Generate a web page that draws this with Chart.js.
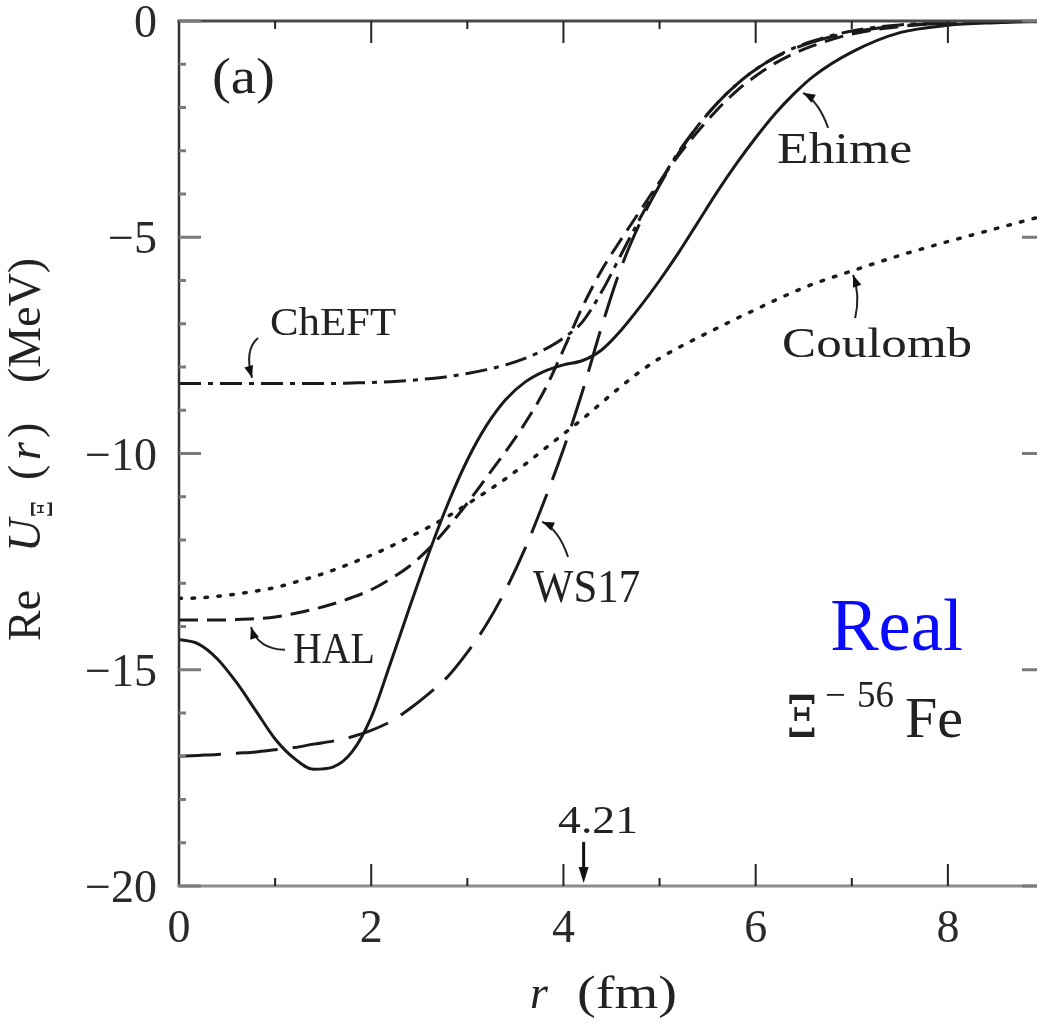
<!DOCTYPE html>
<html>
<head>
<meta charset="utf-8">
<script src="https://cdn.jsdelivr.net/npm/chart.js@4.4.1/dist/chart.umd.min.js"></script>
<style>
  html, body { margin: 0; padding: 0; background: #fff; overflow: hidden; }
  #wrap { width: 1050px; height: 1023px; }
</style>
</head>
<body>
<div id="wrap"><canvas id="c" width="1050" height="1023"></canvas></div>
<script>
// Radial grid (fm) shared by all potentials
const radius = [0, 0.2, 0.4, 0.6, 0.8, 1.0, 1.2, 1.4, 1.6, 1.8,
                2.0, 2.2, 2.4, 2.6, 2.8, 3.0, 3.2, 3.4, 3.6, 3.8,
                4.0, 4.2, 4.4, 4.6, 4.8, 5.0, 5.2, 5.4, 5.6, 5.8,
                6.0, 6.2, 6.4, 6.6, 7.0, 7.5, 8.0, 8.5, 9.0];

// Re U_Xi(r) in MeV for each interaction
const ehime = [-14.3, -14.4, -14.75, -15.3, -15.95, -16.6, -17.05, -17.3, -17.25, -16.9,
               -16.1, -14.85, -13.55, -12.3, -11.15, -10.15, -9.35, -8.75, -8.35, -8.1,
               -7.95, -7.85, -7.6, -7.15, -6.6, -6.0, -5.35, -4.65, -3.95, -3.3,
               -2.7, -2.15, -1.68, -1.28, -0.72, -0.27, -0.1, -0.04, -0.01];
const ws17 = [-17.0, -16.98, -16.96, -16.93, -16.9, -16.85, -16.8, -16.72, -16.65, -16.55,
              -16.4, -16.2, -15.9, -15.55, -15.15, -14.6, -13.95, -13.15, -12.2, -11.1,
              -9.9, -8.55, -7.05, -5.7, -4.65, -3.8, -3.05, -2.42, -1.9, -1.47,
              -1.12, -0.85, -0.64, -0.48, -0.26, -0.11, -0.05, -0.02, -0.01];
const hal = [-13.85, -13.85, -13.85, -13.84, -13.82, -13.78, -13.7, -13.6, -13.48, -13.33,
             -13.15, -12.9, -12.6, -12.2, -11.7, -11.15, -10.55, -9.95, -9.3, -8.55,
             -7.6, -6.6, -5.75, -5.05, -4.38, -3.72, -3.1, -2.55, -2.05, -1.62,
             -1.27, -0.98, -0.75, -0.57, -0.3, -0.13, -0.05, -0.02, -0.01];
const cheft = [-8.38, -8.38, -8.38, -8.38, -8.38, -8.38, -8.38, -8.38, -8.38, -8.37,
               -8.36, -8.34, -8.31, -8.27, -8.22, -8.15, -8.06, -7.95, -7.8, -7.6,
               -7.33, -6.95, -6.25, -5.4, -4.55, -3.75, -3.02, -2.42, -1.9, -1.47,
               -1.12, -0.84, -0.62, -0.46, -0.23, -0.09, -0.04, -0.01, 0];
const coulomb = [-13.35, -13.34, -13.3, -13.25, -13.18, -13.1, -12.98, -12.85, -12.7, -12.53,
                 -12.35, -12.15, -11.93, -11.7, -11.45, -11.17, -10.88, -10.58, -10.25, -9.9,
                 -9.55, -9.2, -8.82, -8.45, -8.1, -7.8, -7.55, -7.32, -7.1, -6.88,
                 -6.67, -6.46, -6.26, -6.08, -5.78, -5.42, -5.1, -4.8, -4.5];

// Axis ticks
const xMajorTicks = [0, 2, 4, 6, 8];
const xMinorTicks = [1, 3, 5, 7];
const yMajorTicks = [0, -5, -10, -15, -20];
const yMinorTicks = [-1, -2, -3, -4, -6, -7, -8, -9, -11, -12, -13, -14, -16, -17, -18, -19];

// Marked radius on the r axis
const markedRadius = 4.21;

const SERIF = "'Liberation Serif', 'Times New Roman', serif";
const GREEK = "'DejaVu Serif', 'Liberation Serif', serif";
const INK = '#1a1a1a';

function toPoints(ys) { return radius.map((r, i) => ({ x: r, y: ys[i] })); }

function lineSet(label, ys, dash, width, cap) {
  return {
    label, data: toPoints(ys), borderColor: INK, borderWidth: width || 3,
    borderDash: dash || [], borderCapStyle: cap || 'butt', fill: false,
    pointRadius: 0, cubicInterpolationMode: 'monotone'
  };
}

// Annotation text placed in data coordinates (r, U); width is the rendered span in px
const labels = [
  { text: 'ChEFT', r: 0.947, u: -7.26, size: 41, width: 126 },
  { text: 'HAL', r: 1.186, u: -14.84, size: 44, width: 82 },
  { text: 'WS17', r: 3.684, u: -13.43, size: 46, width: 107 },
  { text: 'Ehime', r: 6.223, u: -3.28, size: 45, width: 135 },
  { text: 'Coulomb', r: 6.275, u: -7.77, size: 43, width: 190 },
  { text: '(a)', r: 0.343, u: -1.66, size: 50, width: 63 }
];
// Curved pointer arrows: start, control, tip (r, U)
const pointers = [
  [[0.822, -7.33], [0.676, -7.61], [0.76, -8.25]],
  [[1.103, -14.54], [0.82, -14.52], [0.749, -14.01]],
  [[4.048, -12.39], [3.95, -11.75], [3.778, -11.58]],
  [[6.754, -2.47], [6.66, -1.87], [6.494, -1.66]],
  [[7.035, -6.87], [7.09, -6.34], [7.014, -5.87]]
];

// draw text squeezed or stretched horizontally to a given span
function drawFitted(ctx, text, x, y, width) {
  const w = ctx.measureText(text).width;
  ctx.save();
  ctx.translate(x, y);
  ctx.scale(width / w, 1);
  ctx.fillText(text, 0, 0);
  ctx.restore();
}

function arrowHead(ctx, tip, from, len, half) {
  const a = Math.atan2(tip[1] - from[1], tip[0] - from[0]);
  const c = Math.cos(a), s = Math.sin(a);
  ctx.beginPath();
  ctx.moveTo(tip[0], tip[1]);
  ctx.lineTo(tip[0] - len * c + half * s, tip[1] - len * s - half * c);
  ctx.lineTo(tip[0] - len * c - half * s, tip[1] - len * s + half * c);
  ctx.closePath();
  ctx.fill();
}

const decorPlugin = {
  id: 'decor',
  afterDraw(chart) {
    const ctx = chart.ctx;
    const xs = chart.scales.x, ys = chart.scales.y;
    const P = (r, u) => [xs.getPixelForValue(r), ys.getPixelForValue(u)];
    const { left, right, top, bottom } = chart.chartArea;

    ctx.save();
    // frame
    ctx.lineCap = 'butt';
    ctx.strokeStyle = '#4a4a4a';
    ctx.lineWidth = 3;
    ctx.beginPath(); ctx.moveTo(left - 1.5, top); ctx.lineTo(right + 1.5, top); ctx.stroke();
    ctx.strokeStyle = '#333';
    ctx.lineWidth = 2.5;
    ctx.beginPath(); ctx.moveTo(left, top); ctx.lineTo(left, bottom); ctx.stroke();
    ctx.beginPath(); ctx.moveTo(right, top); ctx.lineTo(right, bottom); ctx.stroke();
    ctx.strokeStyle = '#8c8c8c';
    ctx.lineWidth = 3;
    ctx.beginPath(); ctx.moveTo(left - 1.5, bottom); ctx.lineTo(right + 1.5, bottom); ctx.stroke();

    // inward ticks on r axes
    ctx.strokeStyle = '#222';
    ctx.lineWidth = 2;
    const xTick = (v, len) => {
      const x = xs.getPixelForValue(v);
      ctx.beginPath(); ctx.moveTo(x, bottom); ctx.lineTo(x, bottom - len); ctx.stroke();
      ctx.beginPath(); ctx.moveTo(x, top); ctx.lineTo(x, top + len); ctx.stroke();
    };
    xMajorTicks.filter(v => v > 0).forEach(v => xTick(v, 22));
    xMinorTicks.forEach(v => xTick(v, 8));
    // inward ticks on U axes
    ctx.strokeStyle = '#7a7a7a';
    ctx.lineWidth = 3;
    const yTick = (v, len) => {
      const y = ys.getPixelForValue(v);
      ctx.beginPath(); ctx.moveTo(left, y); ctx.lineTo(left + len, y); ctx.stroke();
      ctx.beginPath(); ctx.moveTo(right, y); ctx.lineTo(right - len, y); ctx.stroke();
    };
    yMajorTicks.forEach(v => yTick(v, 22));
    yMinorTicks.forEach(v => yTick(v, 7));

    // curve labels
    ctx.fillStyle = '#222';
    ctx.textAlign = 'left';
    ctx.textBaseline = 'alphabetic';
    labels.forEach(l => {
      const p = P(l.r, l.u);
      ctx.font = l.size + 'px ' + SERIF;
      drawFitted(ctx, l.text, p[0], p[1], l.width);
    });

    // curved pointers
    ctx.strokeStyle = '#222';
    ctx.lineWidth = 2;
    ctx.fillStyle = '#111';
    pointers.forEach(([a, c, t]) => {
      const p0 = P(a[0], a[1]), pc = P(c[0], c[1]), p1 = P(t[0], t[1]);
      ctx.beginPath();
      ctx.moveTo(p0[0], p0[1]);
      ctx.quadraticCurveTo(pc[0], pc[1], p1[0], p1[1]);
      ctx.stroke();
      arrowHead(ctx, p1, pc, 12, 4.5);
    });

    // marker at r = 4.21
    const m0 = P(markedRadius, -18.98), m1 = P(markedRadius, -19.93);
    ctx.strokeStyle = '#111';
    ctx.lineWidth = 3;
    ctx.beginPath(); ctx.moveTo(m0[0], m0[1]); ctx.lineTo(m1[0], m1[1] - 8); ctx.stroke();
    arrowHead(ctx, m1, [m1[0], m1[1] - 20], 16, 5);
    ctx.fillStyle = '#222';
    ctx.font = '40px ' + SERIF;
    const ml = P(4.36, -18.77);
    drawFitted(ctx, markedRadius.toFixed(2), ml[0] - 40, ml[1], 80);

    // "Real" tag
    ctx.fillStyle = '#0a0aff';
    ctx.font = '74px ' + SERIF;
    const rp = P(6.775, -14.54);
    drawFitted(ctx, 'Real', rp[0], rp[1], 133);

    // Xi^- 56Fe system label
    ctx.fillStyle = '#222';
    const base = P(6.327, -16.55);
    ctx.font = '57px ' + GREEK;
    drawFitted(ctx, '\u039E', base[0], base[1], 30);
    ctx.font = '37px ' + SERIF;
    ctx.fillText('\u2212', base[0] + 38, base[1] - 30);
    ctx.fillText('56', base[0] + 70, base[1] - 30);
    ctx.font = '58px ' + SERIF;
    ctx.fillText('Fe', base[0] + 118, base[1]);

    // horizontal title: r (fm)
    const tx = 530, ty = 1008;
    ctx.font = 'italic 46px ' + SERIF;
    ctx.fillText('r', tx, ty);
    ctx.font = '46px ' + SERIF;
    drawFitted(ctx, '(fm)', tx + 47, ty, 100);

    // vertical title: Re U_Xi(r) (MeV)
    ctx.save();
    ctx.translate(40, 641);
    ctx.rotate(-Math.PI / 2);
    ctx.font = '46px ' + SERIF;
    ctx.fillText('Re', 0, 0);
    ctx.font = 'italic 46px ' + SERIF;
    ctx.fillText('U', 89, 0);
    ctx.font = '27px ' + GREEK;
    drawFitted(ctx, '\u039E', 124, 12, 16);
    ctx.font = '46px ' + SERIF;
    ctx.fillText('(', 161, 0);
    ctx.font = 'italic 46px ' + SERIF;
    ctx.fillText('r', 181, 0);
    ctx.font = '46px ' + SERIF;
    ctx.fillText(')', 203, 0);
    ctx.fillText('(MeV)', 258, 0);
    ctx.restore();

    ctx.restore();
  }
};

new Chart(document.getElementById('c'), {
  type: 'line',
  data: {
    datasets: [
      lineSet('Ehime', ehime, [], 3),
      lineSet('WS17', ws17, [42, 15], 3),
      lineSet('HAL', hal, [19, 9], 3),
      lineSet('ChEFT', cheft, [22, 7, 5, 7], 3),
      lineSet('Coulomb', coulomb, [2.5, 10.5], 3.5, 'round')
    ]
  },
  options: {
    responsive: false,
    animation: false,
    devicePixelRatio: 1,
    layout: { padding: { top: 21, right: 6, left: 0, bottom: 0 } },
    plugins: { legend: { display: false }, tooltip: { enabled: false } },
    scales: {
      x: {
        type: 'linear', min: 0, max: 9,
        grid: { display: false, drawTicks: false },
        border: { display: false },
        afterFit(s) { s.height = 137; s.paddingLeft = 0; s.paddingRight = 0; },
        afterBuildTicks(s) { s.ticks = xMajorTicks.map(v => ({ value: v })); },
        ticks: {
          padding: 16, color: '#2a2a2a', maxRotation: 0, autoSkip: false,
          font: { family: SERIF, size: 46 },
          callback: v => String(v)
        }
      },
      y: {
        type: 'linear', min: -20, max: 0,
        grid: { display: false, drawTicks: false },
        border: { display: false },
        afterFit(s) { s.width = 179; s.paddingTop = 0; s.paddingBottom = 0; },
        afterBuildTicks(s) { s.ticks = yMajorTicks.map(v => ({ value: v })); },
        ticks: {
          padding: 22, labelOffset: 4, color: '#2a2a2a', autoSkip: false,
          font: { family: SERIF, size: 46 },
          callback: v => (v < 0 ? '\u2212' + Math.abs(v) : String(v))
        }
      }
    }
  },
  plugins: [decorPlugin]
});
</script>
</body>
</html>
